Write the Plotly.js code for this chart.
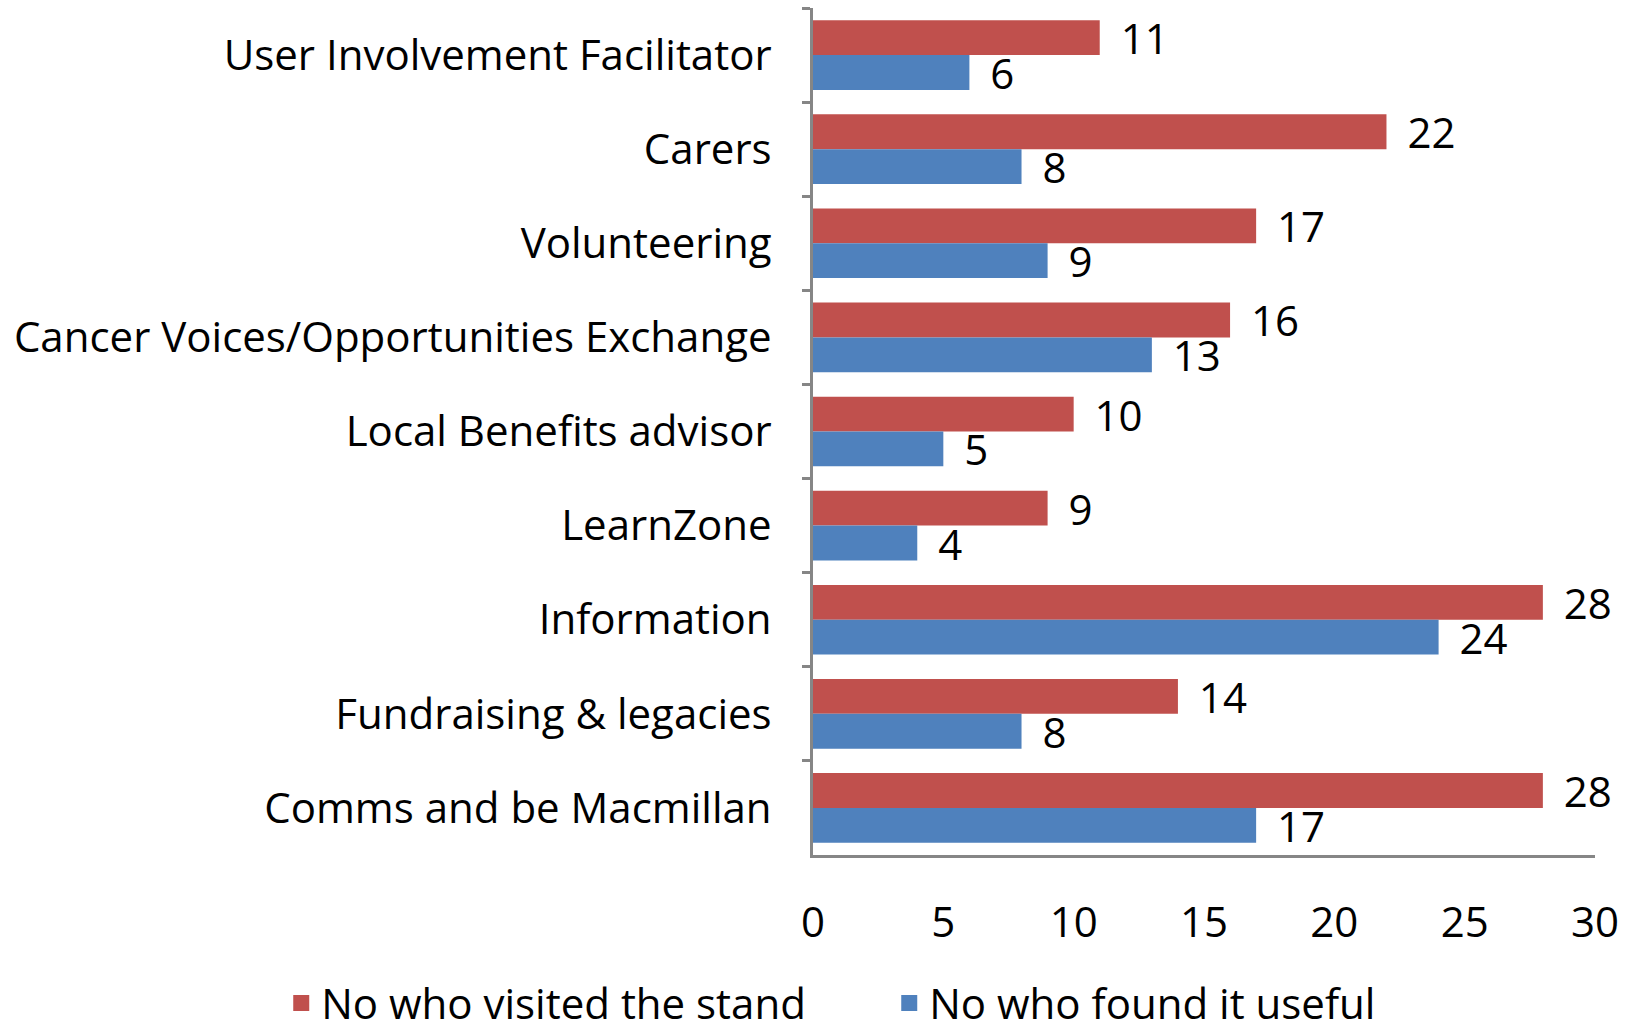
<!DOCTYPE html>
<html>
<head>
<meta charset="utf-8">
<script src="https://cdn.plot.ly/plotly-3.0.1.min.js"></script>
<style>html,body{margin:0;padding:0;background:#fff;}#chart{width:1629px;height:1031px;}</style>
</head>
<body>
<div id="chart"></div>
<script>
const categories = [
  "User Involvement Facilitator",
  "Carers",
  "Volunteering",
  "Cancer Voices/Opportunities Exchange",
  "Local Benefits advisor",
  "LearnZone",
  "Information",
  "Fundraising & legacies",
  "Comms and be Macmillan"
];
const visited = [11, 22, 17, 16, 10, 9, 28, 14, 28];
const useful = [6, 8, 9, 13, 5, 4, 24, 8, 17];
const seriesNames = ["No who visited the stand", "No who found it useful"];
const seriesColors = ["#C0504D", "#4F81BD"];
const xTicks = [0, 5, 10, 15, 20, 25, 30];

const FONT = "Open Sans, Liberation Sans, Arial, sans-serif";
const FS = 42;

function barTrace(i, vals) {
  return {
    type: "bar", orientation: "h", name: seriesNames[i], showlegend: false,
    y: categories, x: vals,
    marker: {color: seriesColors[i]},
    text: vals.map(String), texttemplate: "\u00a0\u2006%{text}", textposition: "outside",
    textfont: {family: FONT, size: FS, color: "#000"},
    constraintext: "none", cliponaxis: false, hoverinfo: "none"
  };
}
function legendTrace(i) {
  return {
    type: "scatter", mode: "markers", name: seriesNames[i],
    x: [null], y: [null],
    marker: {color: seriesColors[i], symbol: "square", size: 16},
    hoverinfo: "none"
  };
}

const traces = [barTrace(0, visited), barTrace(1, useful), legendTrace(0), legendTrace(1)];

const layout = {
  width: 1629, height: 1031,
  margin: {l: 813, r: 34, t: 8, b: 176, autoexpand: false},
  paper_bgcolor: "#fff", plot_bgcolor: "#fff",
  barmode: "group", bargap: 0.26, bargroupgap: 0,
  font: {family: FONT, size: FS, color: "#000"},
  showlegend: true,
  legend: {
    orientation: "h", xref: "paper", yref: "paper",
    x: -0.680, xanchor: "left", y: -0.175, yanchor: "middle",
    bgcolor: "rgba(0,0,0,0)", entrywidth: 563,
    font: {family: FONT, size: FS, color: "#000"}, traceorder: "normal",
    itemsizing: "trace"
  },
  xaxis: {
    range: [0, 30], tickvals: xTicks, ticktext: xTicks.map(String),
    showgrid: false, zeroline: false,
    showline: true, linecolor: "#868686", linewidth: 3,
    ticks: "outside", ticklen: 29, tickcolor: "rgba(0,0,0,0)",
    tickfont: {family: FONT, size: FS, color: "#000"}
  },
  yaxis: {
    type: "category", autorange: "reversed",
    showgrid: false, zeroline: false,
    showline: true, linecolor: "#868686", linewidth: 3,
    ticks: "outside", tickson: "boundaries", ticklen: 8, tickcolor: "#868686", tickwidth: 3,
    ticklabelstandoff: 30,
    tickfont: {family: FONT, size: FS, color: "#000"}
  }
};

Plotly.newPlot("chart", traces, layout, {displayModeBar: false, staticPlot: true});
</script>
</body>
</html>
